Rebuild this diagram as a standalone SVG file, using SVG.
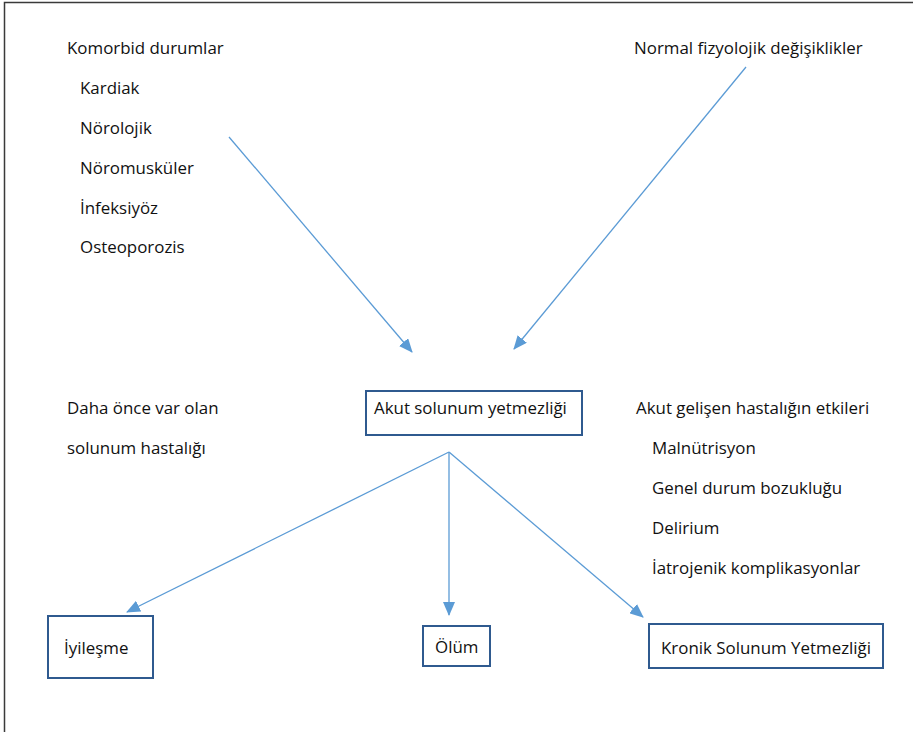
<svg xmlns="http://www.w3.org/2000/svg" width="913" height="732" viewBox="0 0 913 732">
<defs>
<style>
text{font-family:"Open Sans","Liberation Sans",Arial,sans-serif;font-size:16.9px;fill:#111}
.box{fill:#fff;stroke:#2f5a8f;stroke-width:2}
.conn{stroke:#5b9bd5;stroke-width:1.3;fill:none;marker-end:url(#ah)}
</style>
<marker id="ah" markerUnits="userSpaceOnUse" markerWidth="14" markerHeight="12" refX="13" refY="6" orient="auto" viewBox="0 0 14 12">
<path d="M0,0 L14,6 L0,12 z" fill="#5b9bd5"/>
</marker>
</defs>
<rect width="913" height="732" fill="#fff"/>
<path d="M4.5,732 V2.5 H913" fill="none" stroke="#3a3a3a" stroke-width="1.5"/>
<g id="connectors">
<line class="conn" x1="229" y1="137" x2="412" y2="352"/>
<line class="conn" x1="746" y1="67" x2="514" y2="349"/>
<line class="conn" x1="449" y1="452" x2="127" y2="612"/>
<line class="conn" x1="449" y1="452" x2="449" y2="615"/>
<line class="conn" x1="449" y1="452" x2="643" y2="617"/>
</g>
<g id="komorbid">
<text x="67" y="54">Komorbid durumlar</text>
<text x="80" y="94">Kardiak</text>
<text x="80" y="134">Nörolojik</text>
<text x="80" y="174">Nöromusküler</text>
<text x="80" y="214">İnfeksiyöz</text>
<text x="80" y="253">Osteoporozis</text>
</g>
<g id="normal">
<text x="634" y="54">Normal fizyolojik değişiklikler</text>
</g>
<g id="daha-once">
<text x="67" y="414">Daha önce var olan</text>
<text x="67" y="454">solunum hastalığı</text>
</g>
<g id="akut">
<rect class="box" x="366" y="391" width="216" height="44"/>
<text x="374" y="414">Akut solunum yetmezliği</text>
</g>
<g id="akut-gelisen">
<text x="636" y="414">Akut gelişen hastalığın etkileri</text>
<text x="652" y="454">Malnütrisyon</text>
<text x="652" y="494">Genel durum bozukluğu</text>
<text x="652" y="534">Delirium</text>
<text x="652" y="574">İatrojenik komplikasyonlar</text>
</g>
<g id="iyilesme">
<rect class="box" x="48" y="616" width="105" height="62"/>
<text x="64" y="654">İyileşme</text>
</g>
<g id="olum">
<rect class="box" x="423" y="626" width="67" height="40"/>
<text x="435" y="653">Ölüm</text>
</g>
<g id="kronik">
<rect class="box" x="649" y="624" width="234" height="44"/>
<text x="661" y="654">Kronik Solunum Yetmezliği</text>
</g>
</svg>
